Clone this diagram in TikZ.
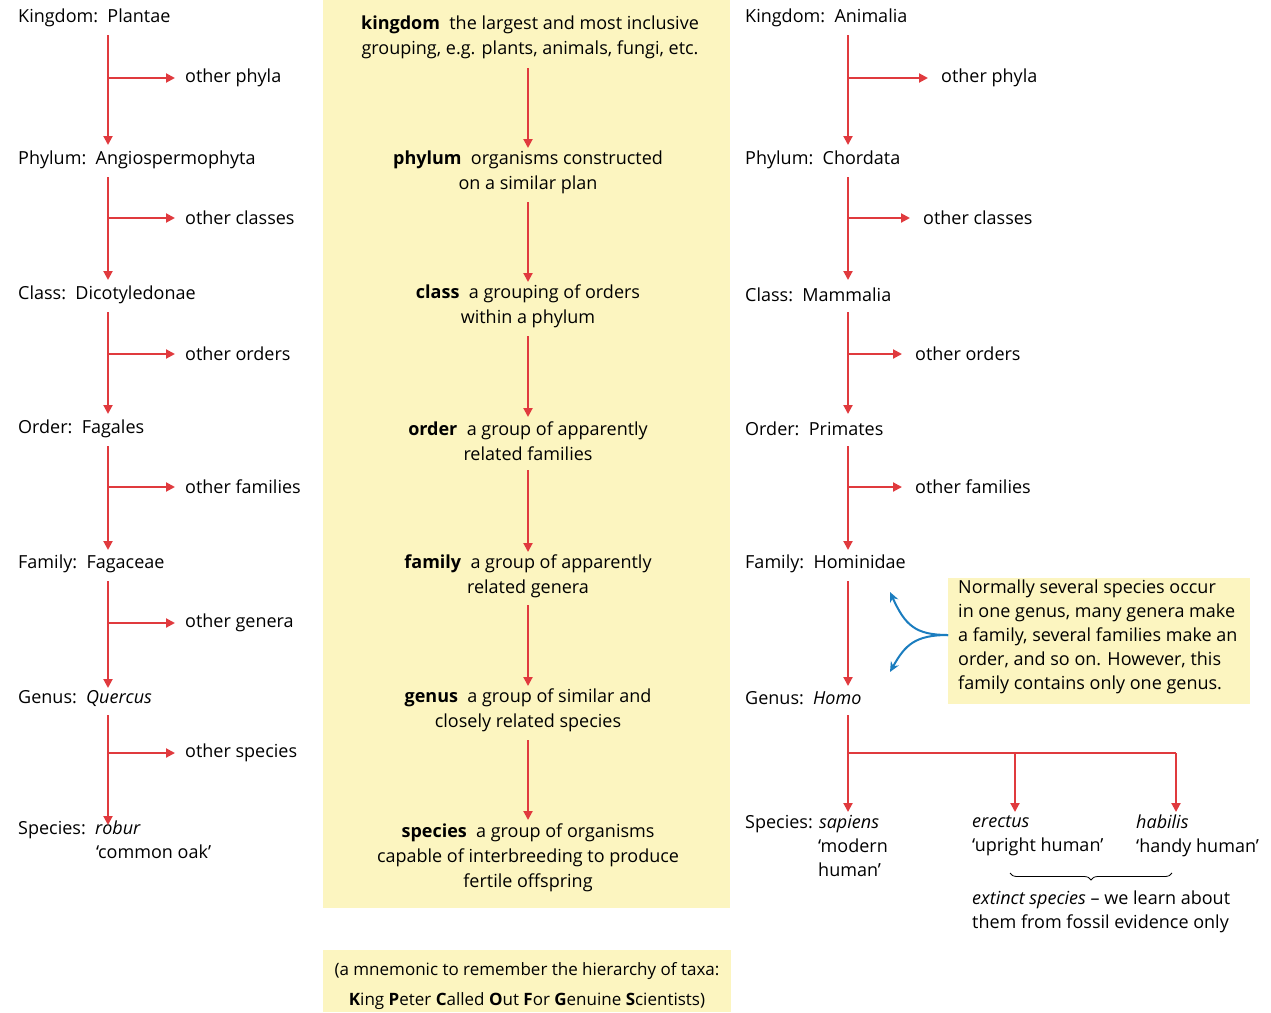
\documentclass[tikz,border=0pt]{standalone}
\usepackage{fontspec}
\setmainfont{Open Sans}
\usetikzlibrary{arrows.meta,decorations.pathreplacing}
\definecolor{arr}{HTML}{E03A3E}
\definecolor{pale}{HTML}{FCF5C0}
\definecolor{blu}{HTML}{1B7DBF}
\begin{document}
\begin{tikzpicture}[x=1pt,y=-1pt,
  every node/.style={font=\fontsize{18}{24}\selectfont,inner sep=0pt},
  lab/.style={anchor=west},
  ctr/.style={align=center,font=\fontsize{18}{25}\selectfont},
  ar/.style={draw=arr,line width=2pt,-{Triangle[length=9pt,width=9pt]}},
  ln/.style={draw=arr,line width=2pt}]
\useasboundingbox (0,0) rectangle (1271,1012);
\fill[pale] (323,0) rectangle (730,908);
\fill[pale] (323,950) rectangle (731,1012);
\fill[pale] (948,578) rectangle (1250,704);
% left column
\foreach \n/\t/\y in {L1/{Kingdom:\ \ Plantae}/18,L2/{Phylum:\ \ Angiospermophyta}/160,L3/{Class:\ \ Dicotyledonae}/295,L4/{Order:\ \ Fagales}/429,L5/{Family:\ \ Fagaceae}/564,L6/{Genus:\ \ \textit{Quercus}}/698}
  \node[lab] (\n) at (18,\y) {\t};
\node[lab,anchor=north west,align=left] (L7) at (18,821) {Species:\ \ \textit{robur}\\\hspace*{78pt}‘common oak’};
\foreach \y/\a/\b in {35/145/78,177/280/218,312/414/354,446/550/487,581/688/623,715/825/753}{
  \coordinate (s\y) at (108,\y); \coordinate (e\y) at (108,\a); \coordinate (b\y) at (108,\b); \coordinate (t\y) at (175,\b);
  \draw[ar] (s\y) -- (e\y); \draw[ar] (b\y) -- (t\y);}
\foreach \n/\t/\y in {o1/phyla/78,o2/classes/218,o3/orders/354,o4/families/487,o5/genera/623,o6/species/753}
  \node[lab] (\n) at (185,\y) {other \t};
% middle
\node[ctr] (m1) at (530,37) {\textbf{kingdom}\ \ the largest and most inclusive\\grouping, e.g. plants, animals, fungi, etc.};
\node[ctr] (m2) at (528,172) {\textbf{phylum}\ \ organisms constructed\\on a similar plan};
\node[ctr] (m3) at (528,306) {\textbf{class}\ \ a grouping of orders\\within a phylum};
\node[ctr] (m4) at (528,441) {\textbf{order}\ \ a group of apparently\\related families};
\node[ctr] (m5) at (528,576) {\textbf{family}\ \ a group of apparently\\related genera};
\node[ctr] (m6) at (528,710) {\textbf{genus}\ \ a group of similar and\\closely related species};
\node[ctr] (m7) at (528,858) {\textbf{species}\ \ a group of organisms\\capable of interbreeding to produce\\fertile offspring};
\draw[ar] (528,68) -- (528,148);
\draw[ar] (528,202) -- (528,282);
\draw[ar] (528,336) -- (528,417);
\draw[ar] (528,470) -- (528,552);
\draw[ar] (528,605) -- (528,686);
\draw[ar] (528,740) -- (528,820);
\node[ctr,font=\fontsize{17}{30}\selectfont] (mn) at (527,986) {(a mnemonic to remember the hierarchy of taxa:\\\textbf{K}ing \textbf{P}eter \textbf{C}alled \textbf{O}ut \textbf{F}or \textbf{G}enuine \textbf{S}cientists)};
% right column
\foreach \n/\t/\y in {R1/{Kingdom:\ \ Animalia}/18,R2/{Phylum:\ \ Chordata}/160,R3/{Class:\ \ Mammalia}/295,R4/{Order:\ \ Primates}/429,R5/{Family:\ \ Hominidae}/564,R6/{Genus:\ \ \textit{Homo}}/698}
  \node[lab] (\n) at (745,\y) {\t};
\foreach \y/\a/\b/\c in {35/145/78/928,177/280/218/910,312/414/354/902,446/550/487/902}{
  \draw[ar] (848,\y) -- (848,\a); \draw[ar] (848,\b) -- (\c,\b);}
\node[lab] (q1) at (941,78) {other phyla};
\node[lab] (q2) at (923,218) {other classes};
\node[lab] (q3) at (915,354) {other orders};
\node[lab] (q4) at (915,487) {other families};
\draw[ar] (848,581) -- (848,686);
\coordinate (g0) at (848,715); \coordinate (g1) at (848,753);
\coordinate (g2) at (1015,753); \coordinate (g3) at (1176,753);
\draw[ln] (g0) -- (g1) -- (g3);
\draw[ar] (g1) -- (848,812);
\draw[ar] (g2) -- (1015,812);
\draw[ar] (g3) -- (1176,812);
\node[lab,anchor=north west,align=left] (R7) at (745,815) {Species: \textit{sapiens}\\\hspace*{73pt}‘modern\\\hspace*{73pt}human’};
\node[lab,anchor=north west,align=left] (er) at (972,815) {\textit{erectus}\\‘upright human’};
\node[lab,anchor=north west,align=left] (hb) at (1136,815) {\textit{habilis}\\‘handy human’};
\draw[decorate,decoration={brace,amplitude=7pt,mirror},line width=0.8pt] (1010,873) -- (1172,873);
\node[lab,anchor=north west,align=left] (ex) at (972,891) {\textit{extinct species} – we learn about\\them from fossil evidence only};
\node[lab,anchor=north west,align=left] (nt) at (958,580) {Normally several species occur\\in one genus, many genera make\\a family, several families make an\\order, and so on. However, this\\family contains only one genus.};
\draw[blu,line width=2pt,-{Stealth[length=10pt,width=9pt]}] (948,635) .. controls (915,635) and (905,625) .. (890,592);
\draw[blu,line width=2pt,-{Stealth[length=10pt,width=9pt]}] (948,635) .. controls (915,635) and (905,645) .. (890,672);
\end{tikzpicture}
\end{document}
